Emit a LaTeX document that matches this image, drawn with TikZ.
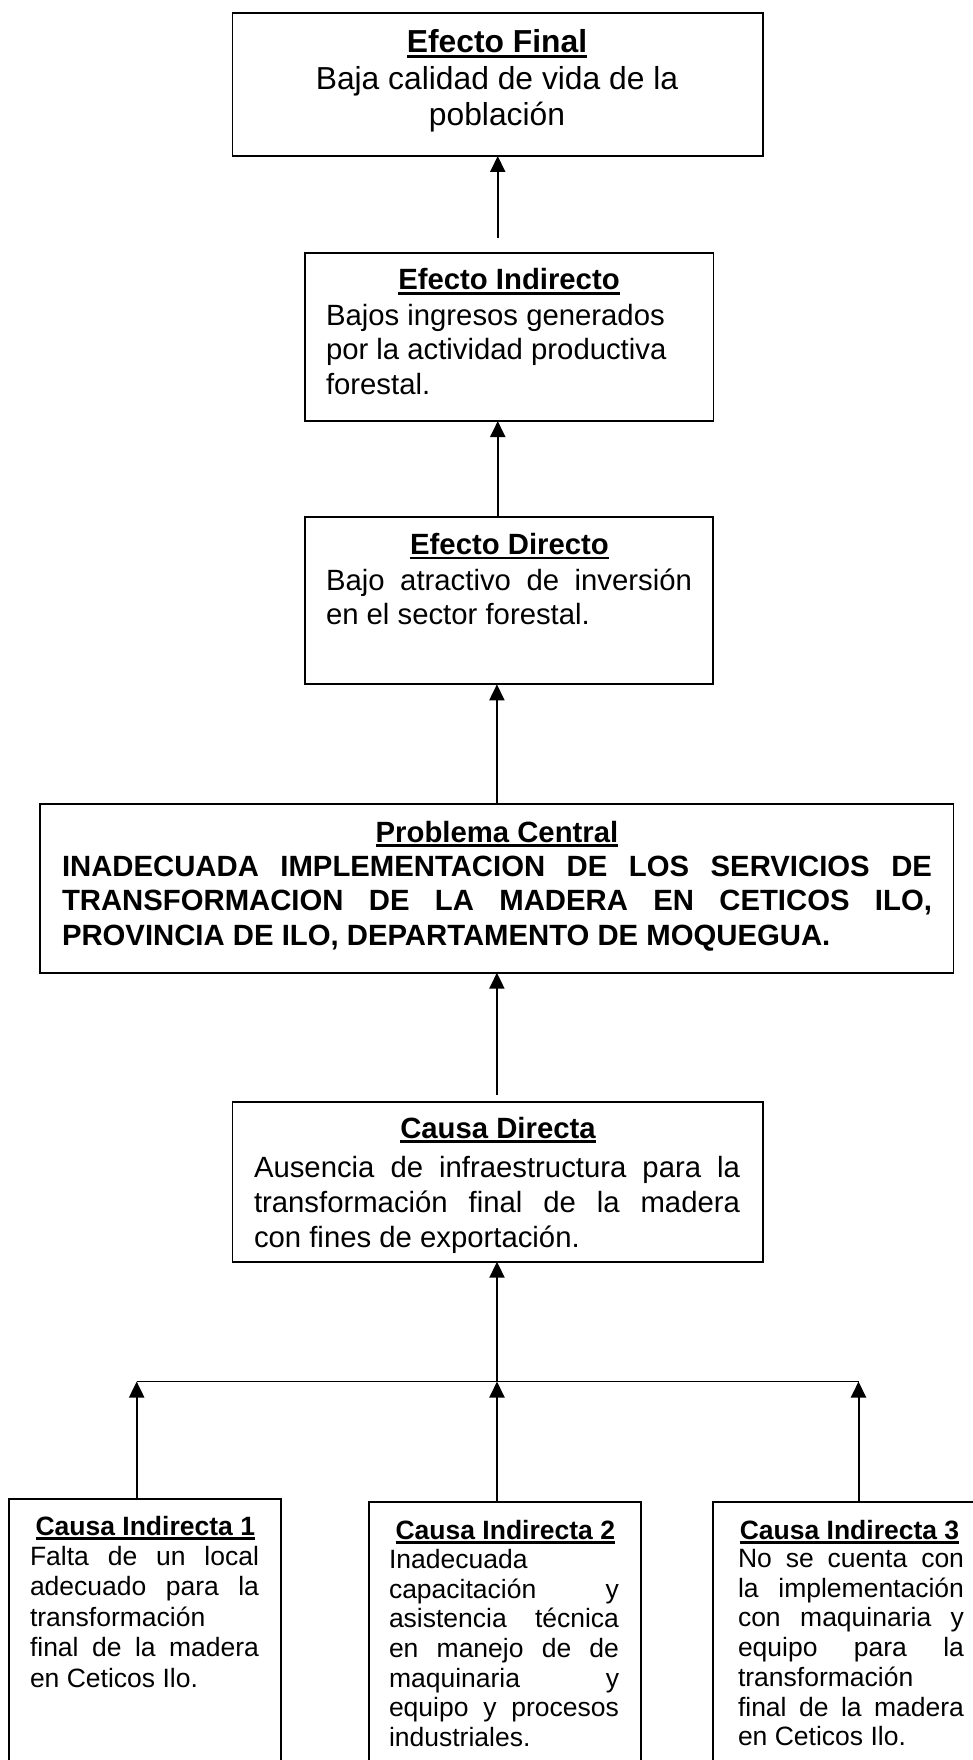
\documentclass[tikz,border=0pt]{standalone}
\usepackage{fontspec}
\setmainfont{Liberation Sans}
\usetikzlibrary{arrows.meta,calc}
\newsavebox\ttlbox
\newcommand\ttl[1]{\sbox\ttlbox{\bfseries #1}\rlap{\rule[-0.17em]{\wd\ttlbox}{0.1em}}\usebox\ttlbox}
\newlength\jw
\newcommand\jl[1]{\hbox to\jw{#1}}
\begin{document}
\begin{tikzpicture}[x=1pt,y=-1pt,
  box/.style={draw, line width=1.8pt, inner sep=0pt, outer sep=0pt},
  arr/.style={line width=2pt, -{Triangle[width=15pt,length=16pt]}},
  hl/.style={line width=1.5pt},
  huge/.style={font=\fontsize{31.8pt}{37pt}\selectfont},
  big/.style={font=\fontsize{29.3pt}{35pt}\selectfont},
  bigb/.style={font=\fontsize{29.3pt}{35pt}\selectfont\bfseries},
  sml/.style={font=\fontsize{26.5pt}{30pt}\selectfont},
  ctr/.style={inner sep=0pt, outer sep=0pt, anchor=base},
  lft/.style={inner sep=0pt, outer sep=0pt, anchor=base west}]
\useasboundingbox (0,0) rectangle (972,1760);

% boxes
\node[box, minimum width=530.5pt, minimum height=143pt] (ef) at (497.75,84.5) {};
\node[box, minimum width=408.5pt, minimum height=168.3pt] (ei) at (509.2,336.9) {};
\node[box, minimum width=408.3pt, minimum height=167pt] (ed) at (509.2,600.8) {};
\node[box, minimum width=913.2pt, minimum height=168.7pt] (pc) at (496.9,888.35) {};
\node[box, minimum width=530.5pt, minimum height=160pt] (cd) at (497.75,1181.7) {};
\node[box, minimum width=272pt, minimum height=300.7pt] (ci1) at (145,1649.65) {};
\node[box, minimum width=272pt, minimum height=298pt] (ci2) at (505,1651) {};
\node[box, minimum width=273pt, minimum height=298pt] (ci3) at (849.5,1651) {};

% Efecto Final
\node[huge,ctr] (ef-t) at (497,53) {\ttl{Efecto Final}};
\node[huge,ctr] (ef-1) at (497,89.5) {Baja calidad de vida de la};
\node[huge,ctr] (ef-2) at (497,125.5) {población};

% Efecto Indirecto
\node[big,ctr] (ei-t) at (509,290) {\ttl{Efecto Indirecto}};
\foreach \t [count=\i from 0] in {Bajos ingresos generados,por la actividad productiva,forestal.}
  \node[big,lft] (ei-\i) at (326,{325+34.5*\i}) {\t};

% Efecto Directo
\node[big,ctr] (ed-t) at (509.5,554.5) {\ttl{Efecto Directo}};
\setlength\jw{366pt}
\foreach \t [count=\i from 0] in {\jl{Bajo atractivo de inversión},en el sector forestal.}
  \node[big,lft] (ed-\i) at (326,{590+34*\i}) {\t};

% Problema Central
\node[big,ctr] (pc-t) at (497,842) {\ttl{Problema Central}};
\setlength\jw{870pt}
\foreach \t [count=\i from 0] in {\jl{INADECUADA IMPLEMENTACION DE LOS SERVICIOS DE},\jl{TRANSFORMACION DE LA MADERA EN CETICOS ILO,},{PROVINCIA DE ILO, DEPARTAMENTO DE MOQUEGUA.}}
  \node[bigb,lft] (pc-\i) at (62,{876+34.5*\i}) {\t};

% Causa Directa
\node[big,ctr] (cd-t) at (498,1138) {\ttl{Causa Directa}};
\setlength\jw{486pt}
\foreach \t [count=\i from 0] in {\jl{Ausencia de infraestructura para la},\jl{transformación final de la madera},con fines de exportación.}
  \node[big,lft] (cd-\i) at (254,{1177.5+35*\i}) {\t};

% Causa Indirecta 1
\node[sml,ctr] (ci1-t) at (145.3,1535.5) {\ttl{Causa Indirecta 1}};
\setlength\jw{229pt}
\foreach \t [count=\i from 0] in {\jl{Falta de un local},\jl{adecuado para la},transformación,\jl{final de la madera},en Ceticos Ilo.}
  \node[sml,lft] (ci1-\i) at (30,{1565.5+30.4*\i}) {\t};

% Causa Indirecta 2
\node[sml,ctr] (ci2-t) at (505.3,1539.5) {\ttl{Causa Indirecta 2}};
\setlength\jw{230pt}
\foreach \t [count=\i from 0] in {Inadecuada,\jl{capacitación y},\jl{asistencia técnica},\jl{en manejo de de},\jl{maquinaria y},\jl{equipo y procesos},industriales.}
  \node[sml,lft] (ci2-\i) at (389,{1568.3+29.7*\i}) {\t};

% Causa Indirecta 3
\node[sml,ctr] (ci3-t) at (849.5,1539.5) {\ttl{Causa Indirecta 3}};
\setlength\jw{226pt}
\foreach \t [count=\i from 0] in {\jl{No se cuenta con},\jl{la implementación},\jl{con maquinaria y},\jl{equipo para la},transformación,\jl{final de la madera},en Ceticos Ilo.}
  \node[sml,lft] (ci3-\i) at (738,{1567.5+29.7*\i}) {\t};

% connectors
\draw[arr] ($(ef.south |- ei.north)+(0,-15)$) -- (ef.south);
\draw[arr] (ef.south |- ed.north) -- (ef.south |- ei.south);
\draw[arr] (pc.north) -- (pc.north |- ed.south);
\draw[arr] ($(pc.south |- cd.north)+(0,-7)$) -- (pc.south);
\coordinate (j1) at (136.7,1381.5);
\coordinate (j2) at (497,1381.5);
\coordinate (j3) at (858.5,1381.5);
\draw[hl] (j1) -- (j3);
\draw[arr] (j2) -- (j2 |- cd.south);
\draw[arr] (j1 |- ci1.north) -- (j1);
\draw[arr] (j2 |- ci2.north) -- (j2);
\draw[arr] (j3 |- ci3.north) -- (j3);
\end{tikzpicture}
\end{document}
